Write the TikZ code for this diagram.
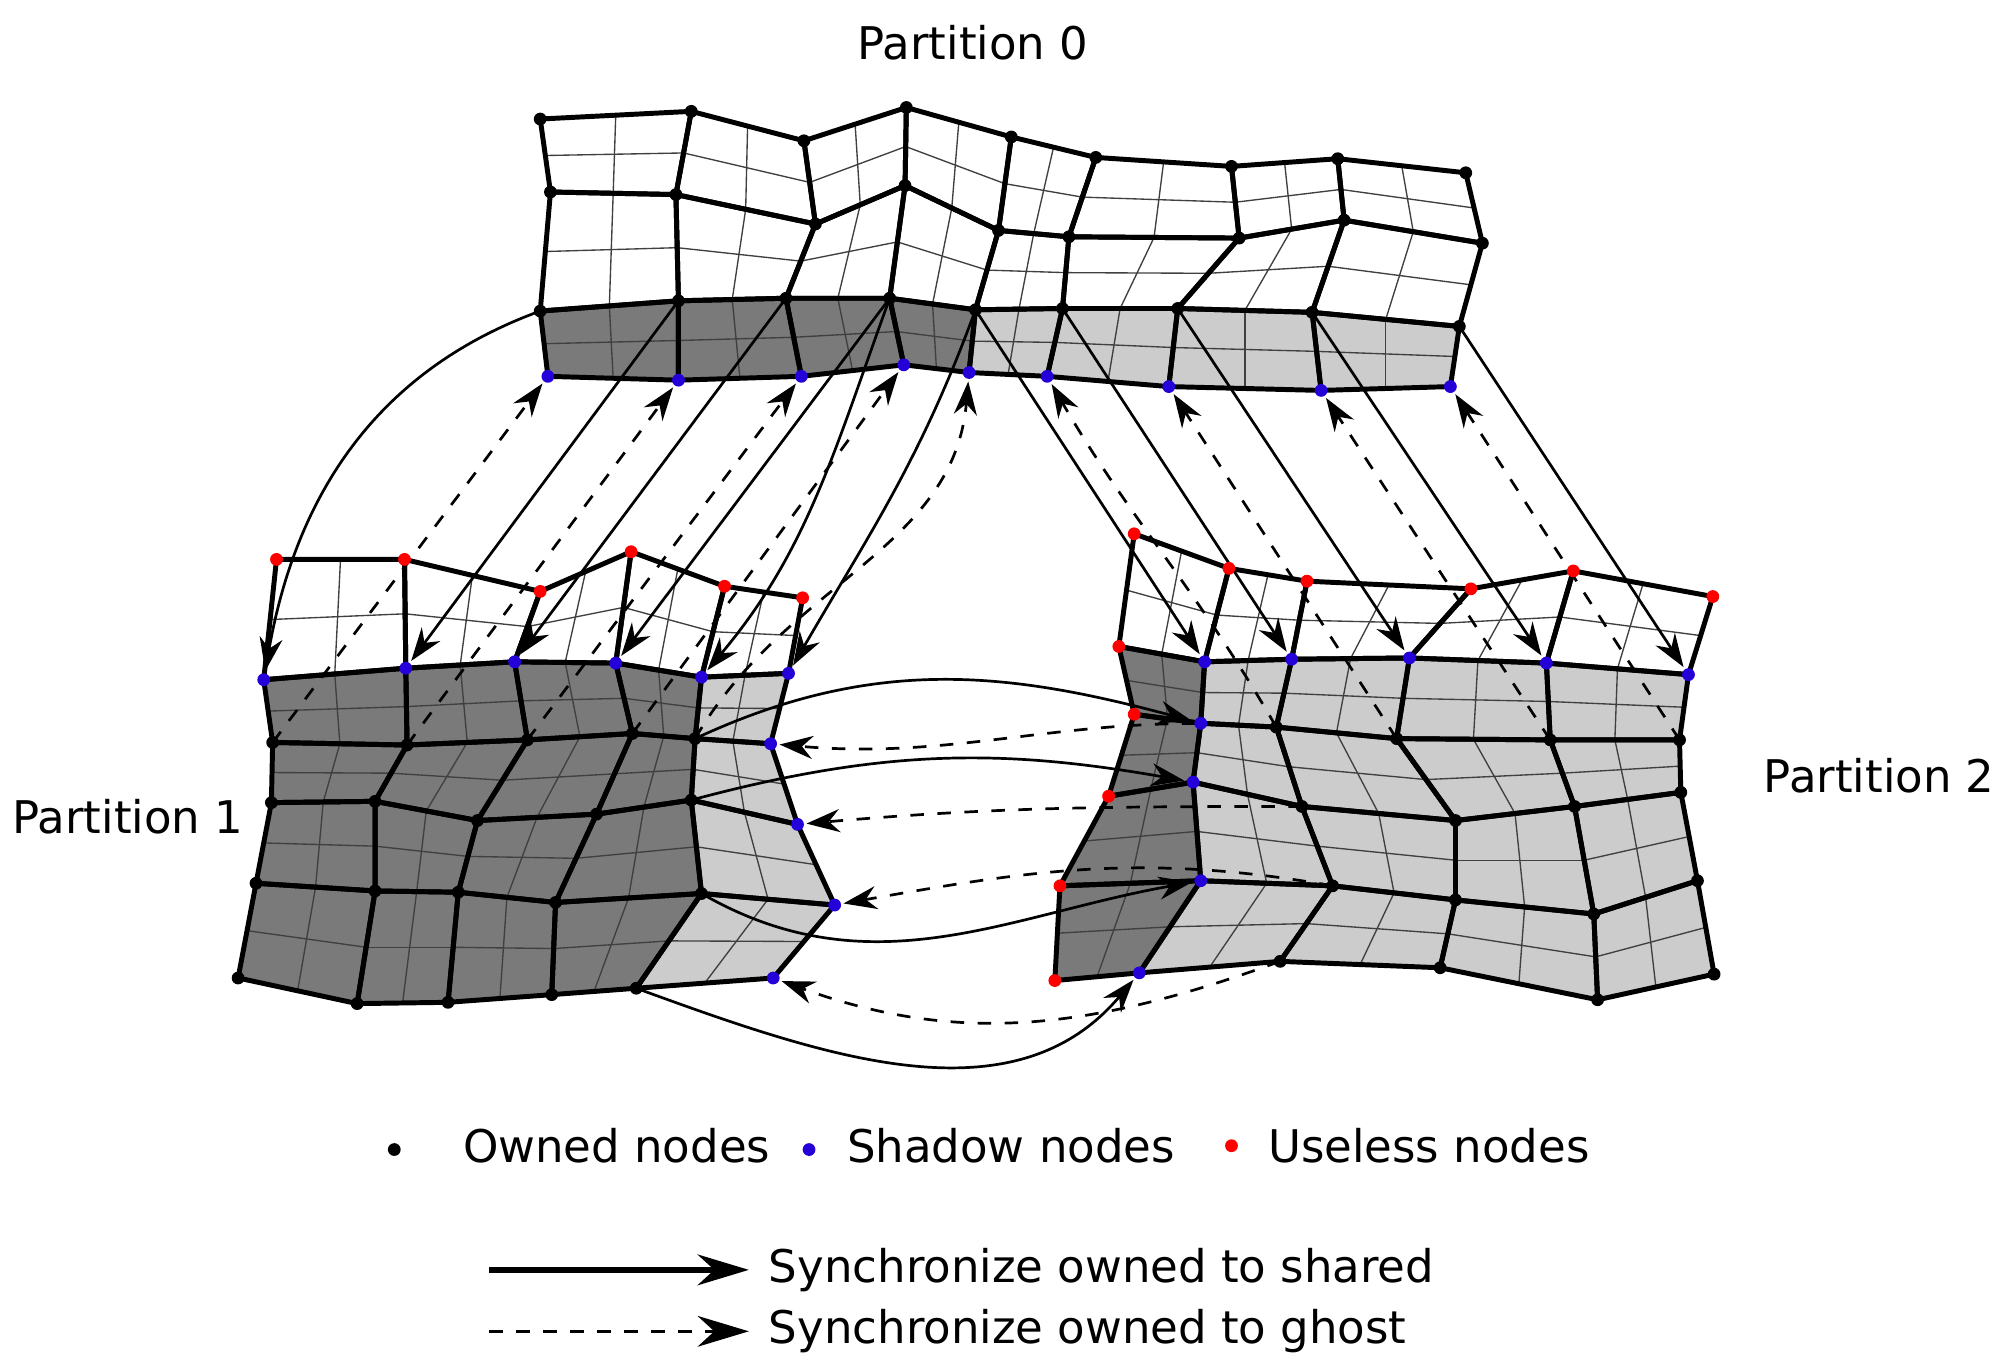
\documentclass[tikz,border=0pt]{standalone}
\usepackage{fontspec}
\setmainfont{DejaVu Sans}
\usetikzlibrary{arrows.meta,calc}

\newcommand\finecell[5]{%
  \fill[#5] (#1) -- (#2) -- (#3) -- (#4) -- cycle;
  \foreach \s in {0.5}{
    \draw[fine] ($(#1)!\s!(#2)$) -- ($(#4)!\s!(#3)$);
    \draw[fine] ($(#1)!\s!(#4)$) -- ($(#2)!\s!(#3)$);
  }}
\newcommand\coarsecell[4]{\draw[coarse] (#1) -- (#2) -- (#3) -- (#4) -- cycle;}

\begin{document}
\begin{tikzpicture}[
    x=0.01cm, y=-0.01cm,
    fine/.style = {line width=0.3pt, black!75},
    coarse/.style = {line width=1.1pt, line join=round},
    owned/.style = {line width=0.6pt, -{Stealth[length=2.6mm,width=1.8mm]}, shorten >=2pt},
    ghost/.style = {owned, dashed},
    label/.style = {font=\fontsize{10}{12}\selectfont, inner sep=0pt},
    dk/.style = {fill=black!52},
    lt/.style = {fill=black!20},
    wh/.style = {fill=white}
  ]
  \useasboundingbox (0,0) rectangle (1560,1068);

  % Partition 0
  \foreach [count=\c from 0] \x/\y in {422/93,540/87,628/110,708/84,790/107,856/123,962/130,1045/124,1145/135}
    \coordinate (a0-\c) at (\x,\y);
  \foreach [count=\c from 0] \x/\y in {430/150,528/152,637/175,707/145,780/180,835/185,968/186,1050/172,1158/190}
    \coordinate (a1-\c) at (\x,\y);
  \foreach [count=\c from 0] \x/\y in {422/243,530/235,614/233,695/233,762/242,830/241,920/241,1025/244,1140/255}
    \coordinate (a2-\c) at (\x,\y);
  \foreach [count=\c from 0] \x/\y in {428/294,530/297,626/294,706/285,757/291,818/294,913/302,1032/305,1133/302}
    \coordinate (a3-\c) at (\x,\y);

  % Partition 1
  \foreach [count=\c from 0] \x/\y in {216/437,316/437,422/462,493/431,566/458,627/467}
    \coordinate (b0-\c) at (\x,\y);
  \foreach [count=\c from 0] \x/\y in {206/531,317/522,402/517,481/518,548/529,616/526}
    \coordinate (b1-\c) at (\x,\y);
  \foreach [count=\c from 0] \x/\y in {213/580,318/582,412/578,494/573,543/577,602/581}
    \coordinate (b2-\c) at (\x,\y);
  \foreach [count=\c from 0] \x/\y in {212/627,293/626,373/641,466/636,540/625,623/644}
    \coordinate (b3-\c) at (\x,\y);
  \foreach [count=\c from 0] \x/\y in {200/690,293/696,358/697,434/705,548/698,652/707}
    \coordinate (b4-\c) at (\x,\y);
  \foreach [count=\c from 0] \x/\y in {186/764,279/784,350/783,431/777,497/772,604/764}
    \coordinate (b5-\c) at (\x,\y);

  % Partition 2
  \foreach [count=\c from 0] \x/\y in {886/417,960/444,1021/454,1149/460,1229/446,1338/466}
    \coordinate (c0-\c) at (\x,\y);
  \foreach [count=\c from 0] \x/\y in {874/505,941/517,1009/515,1101/514,1208/518,1319/527}
    \coordinate (c1-\c) at (\x,\y);
  \foreach [count=\c from 0] \x/\y in {886/558,938/565,997/568,1091/577,1211/578,1312/578}
    \coordinate (c2-\c) at (\x,\y);
  \foreach [count=\c from 0] \x/\y in {866/622,932/611,1017/630,1137/641,1230/630,1313/619}
    \coordinate (c3-\c) at (\x,\y);
  \foreach [count=\c from 0] \x/\y in {828/692,938/688,1041/692,1137/703,1245/714,1326/688}
    \coordinate (c4-\c) at (\x,\y);
  \foreach [count=\c from 0] \x/\y in {824/766,890/760,1000/751,1125/756,1248/781,1339/761}
    \coordinate (c5-\c) at (\x,\y);

  % cells
  \foreach \r/\rn in {0/1,1/2,2/3}{
    \foreach \c/\cn in {0/1,1/2,2/3,3/4,4/5,5/6,6/7,7/8}{
      \ifnum\r=2 \ifnum\c<4 \def\st{dk}\else\def\st{lt}\fi \else \def\st{wh}\fi
      \finecell{a\r-\c}{a\r-\cn}{a\rn-\cn}{a\rn-\c}{\st}
    }}
  \foreach \r/\rn in {0/1,1/2,2/3,3/4,4/5}{
    \foreach \c/\cn in {0/1,1/2,2/3,3/4,4/5}{
      \ifnum\r=0 \def\st{wh}\else \ifnum\c<4 \def\st{dk}\else\def\st{lt}\fi\fi
      \finecell{b\r-\c}{b\r-\cn}{b\rn-\cn}{b\rn-\c}{\st}
      \ifnum\r=0 \def\st{wh}\else \ifnum\c<1 \def\st{dk}\else\def\st{lt}\fi\fi
      \finecell{c\r-\c}{c\r-\cn}{c\rn-\cn}{c\rn-\c}{\st}
    }}
  \foreach \r/\rn in {0/1,1/2,2/3}{
    \foreach \c/\cn in {0/1,1/2,2/3,3/4,4/5,5/6,6/7,7/8}{
      \coarsecell{a\r-\c}{a\r-\cn}{a\rn-\cn}{a\rn-\c}
    }}
  \foreach \r/\rn in {0/1,1/2,2/3,3/4,4/5}{
    \foreach \c/\cn in {0/1,1/2,2/3,3/4,4/5}{
      \coarsecell{b\r-\c}{b\r-\cn}{b\rn-\cn}{b\rn-\c}
      \coarsecell{c\r-\c}{c\r-\cn}{c\rn-\cn}{c\rn-\c}
    }}

  % owned to shared
  \draw[owned] (a2-0) to[out=200,in=80] (b1-0);
  \draw[owned] (a2-1) -- (b1-1);
  \draw[owned] (a2-2) -- (b1-2);
  \draw[owned] (a2-3) -- (b1-3);
  \draw[owned] (a2-3) to[out=250,in=50] (b1-4);
  \draw[owned] (a2-4) to[out=250,in=60] (b1-5);
  \draw[owned] (a2-4) -- (c1-1);
  \draw[owned] (a2-5) -- (c1-2);
  \draw[owned] (a2-6) -- (c1-3);
  \draw[owned] (a2-7) -- (c1-4);
  \draw[owned] (a2-8) -- (c1-5);
  \draw[owned] (b2-4) to[out=25,in=165] (c2-1);
  \draw[owned] (b3-4) to[out=15,in=170] (c3-1);
  \draw[owned] (b4-4) to[out=-30,in=190] (c4-1);
  \draw[owned] (b5-4) to[out=-20,in=230] (c5-1);

  % owned to ghost
  \draw[ghost] (b2-0) -- (a3-0);
  \draw[ghost] (b2-1) -- (a3-1);
  \draw[ghost] (b2-2) -- (a3-2);
  \draw[ghost] (b2-3) -- (a3-3);
  \draw[ghost] (b2-4) to[out=60,in=265] (a3-4);
  \draw[ghost] (c2-2) to[out=120,in=300] (a3-5);
  \draw[ghost] (c2-3) -- (a3-6);
  \draw[ghost] (c2-4) -- (a3-7);
  \draw[ghost] (c2-5) -- (a3-8);
  \draw[ghost] (c2-2) to[out=175,in=-5] (b2-5);
  \draw[ghost] (c3-2) to[out=180,in=5] (b3-5);
  \draw[ghost] (c4-2) to[out=170,in=10] (b4-5);
  \draw[ghost] (c5-2) to[out=200,in=-20] (b5-5);

  % nodes
  \foreach \r in {0,1,2}{
    \foreach \c in {0,...,8}{\fill (a\r-\c) circle (5);}}
  \foreach \c in {0,...,8}{\fill[blue!70!violet] (a3-\c) circle (5);}
  \foreach \c in {0,...,5}{
    \fill[red] (b0-\c) circle (5);
    \fill[blue!70!violet] (b1-\c) circle (5);
    \fill[red] (c0-\c) circle (5);
  }
  \foreach \r in {2,...,5}{
    \foreach \c in {0,...,4}{\fill (b\r-\c) circle (5);}
    \fill[blue!70!violet] (b\r-5) circle (5);
    \foreach \c in {2,...,5}{\fill (c\r-\c) circle (5);}
  }
  \foreach \r in {1,...,5}{
    \fill[red] (c\r-0) circle (5);
    \fill[blue!70!violet] (c\r-1) circle (5);
  }
  \foreach \c in {2,...,5}{\fill[blue!70!violet] (c1-\c) circle (5);}

  % labels
  \node[label] (t0) at (760,33) {Partition 0};
  \node[label] (t1) at (100,638) {Partition 1};
  \node[label] (t2) at (1468,606) {Partition 2};

  % legend
  \fill (308,898) circle (5);
  \node[label, anchor=west] (lo) at (361,895) {Owned nodes};
  \fill[blue!70!violet] (632,898) circle (5);
  \node[label, anchor=west] (ls) at (661,895) {Shadow nodes};
  \fill[red] (962,895) circle (5);
  \node[label, anchor=west] (lu) at (990,895) {Useless nodes};
  \coordinate (s0) at (382,992);
  \coordinate (g0) at (382,1040);
  \node[label, anchor=west] (ls1) at (600,992) {Synchronize owned to shared};
  \node[label, anchor=west] (lg1) at (600,1040) {Synchronize owned to ghost};
  \draw[line width=1.2pt, -{Stealth[length=4mm,width=2.4mm]}] (s0) -- ([xshift=-1.5mm]ls1.west);
  \draw[line width=0.8pt, dashed, -{Stealth[length=4mm,width=2.4mm]}] (g0) -- ([xshift=-1.5mm]lg1.west);
\end{tikzpicture}
\end{document}
